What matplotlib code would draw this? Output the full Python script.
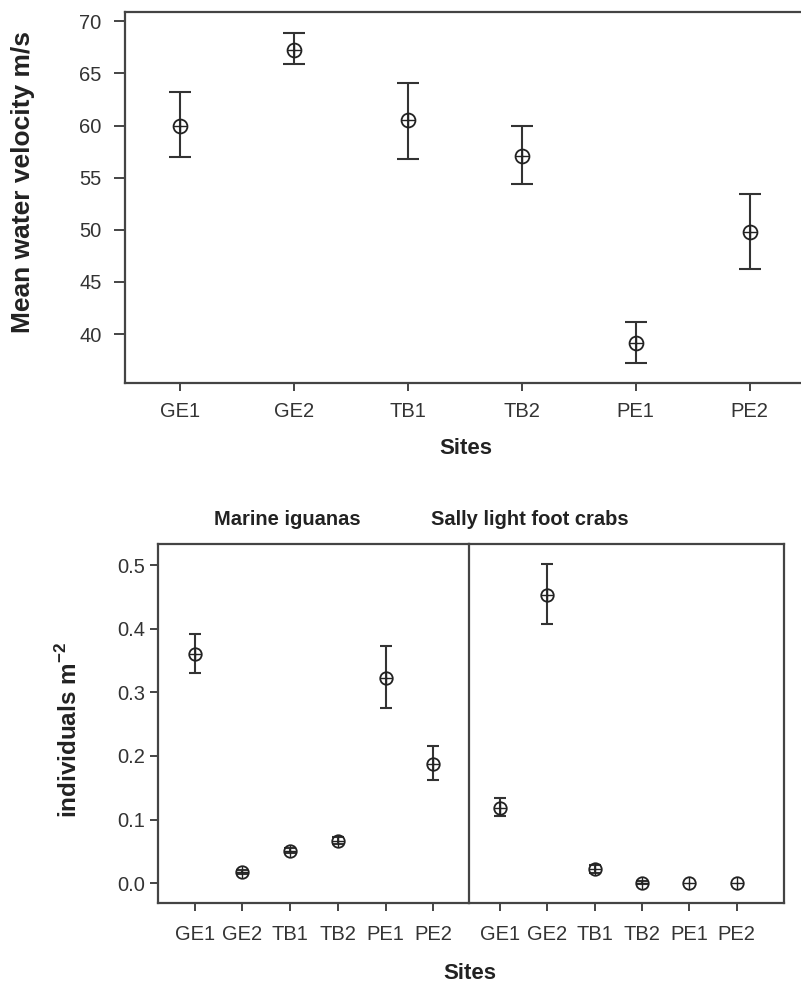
import matplotlib
matplotlib.use("Agg")
import matplotlib.pyplot as plt
import numpy as np

plt.rcParams['font.family'] = ['Liberation Sans', 'DejaVu Sans']

sites = ["GE1", "GE2", "TB1", "TB2", "PE1", "PE2"]

# Top panel: mean water velocity with error bar ends
vel_mean = [60.0, 67.3, 60.5, 57.1, 39.1, 49.8]
vel_low = [57.0, 65.95, 56.8, 54.35, 37.2, 46.2]
vel_high = [63.2, 68.9, 64.1, 60.0, 41.2, 53.4]

# Bottom panels: density (individuals m^-2)
igu_mean = [0.360, 0.018, 0.051, 0.067, 0.323, 0.188]
igu_low = [0.330, 0.015, 0.047, 0.061, 0.276, 0.163]
igu_high = [0.392, 0.021, 0.055, 0.073, 0.372, 0.216]

crab_mean = [0.118, 0.453, 0.022, 0.001, 0.0, 0.0]
crab_low = [0.106, 0.407, 0.016, -0.001, 0.0, 0.0]
crab_high = [0.134, 0.501, 0.028, 0.003, 0.0, 0.0]

W, H = 801, 988
fig = plt.figure(figsize=(W / 100, H / 100), dpi=100)
LC = '#333333'
SC = '#444444'


def ax_px(l, t, r, b):
    return fig.add_axes([l / W, (H - b) / H, (r - l) / W, (b - t) / H])


def draw(ax, m, lo, hi, ms, cap):
    x = np.arange(len(m))
    m = np.array(m); lo = np.array(lo); hi = np.array(hi)
    yerr = np.vstack([m - lo, hi - m])
    has = (hi - lo) > 0
    ax.errorbar(x[has], m[has], yerr=yerr[:, has], fmt='none', ecolor=LC,
                elinewidth=1.5, capsize=cap, capthick=1.5, zorder=2)
    ax.plot(x, m, 'o', ms=ms, mfc='none', mec='#222222', mew=1.3, zorder=3)
    ax.plot(x, m, '+', ms=ms, mec='#222222', mew=1.0, zorder=4)


def style(ax):
    for s in ax.spines.values():
        s.set_color(SC)
        s.set_linewidth(1.6)
    ax.tick_params(colors=SC, width=1.4, length=6, labelsize=14.5,
                   labelcolor='#333333')


# Top
ax1 = ax_px(125, 12, 801, 383)
draw(ax1, vel_mean, vel_low, vel_high, ms=10, cap=8)
ax1.set_xlim(-0.48, 5.45)
ax1.set_ylim(35.3, 70.9)
ax1.set_yticks([40, 45, 50, 55, 60, 65, 70])
ax1.set_xticks(range(6))
ax1.set_xticklabels(sites)
style(ax1)
ax1.spines['right'].set_visible(False)
ax1.tick_params(axis='x', pad=8)
ax1.tick_params(axis='y', length=8, pad=9)
ax1.set_ylabel("Mean water velocity m/s", fontsize=19, fontweight='bold',
               color='#222222')
ax1.yaxis.set_label_coords(-(125 - 35) / 676, (383 - 182) / 371)
fig.text(466 / W, 1 - 449 / H, "Sites", ha='center', va='center',
         fontsize=16, fontweight='bold', color='#222222')

# Bottom left
ax2 = ax_px(158, 544, 469, 903)
draw(ax2, igu_mean, igu_low, igu_high, ms=9, cap=4.5)
ax2.set_xlim(-0.77, 5.75)
ax2.set_ylim(-0.031, 0.533)
ax2.set_yticks([0.0, 0.1, 0.2, 0.3, 0.4, 0.5])
ax2.set_yticklabels(["0.0", "0.1", "0.2", "0.3", "0.4", "0.5"])
ax2.set_xticks(range(6))
ax2.set_xticklabels(sites)
style(ax2)
ax2.tick_params(axis='x', pad=10)
ax2.spines['right'].set_visible(False)
ax2.set_ylabel("individuals m$^{\\mathregular{-2}}$", fontsize=17.5,
               fontweight='bold', color='#222222')
ax2.yaxis.set_label_coords(-(158 - 82) / 311, (903 - 730) / 359)

# Bottom right
ax3 = ax_px(469, 544, 784, 903)
draw(ax3, crab_mean, crab_low, crab_high, ms=9, cap=4.5)
ax3.set_xlim(-0.65, 6.0)
ax3.set_ylim(-0.031, 0.533)
ax3.set_xticks(range(6))
ax3.set_xticklabels(sites)
ax3.set_yticks([])
style(ax3)
ax3.tick_params(axis='x', pad=10)

fig.text(287 / W, 1 - 519 / H, "Marine iguanas", ha='center', va='center',
         fontsize=14.5, fontweight='bold', color='#222222')
fig.text(530 / W, 1 - 519 / H, "Sally light foot crabs", ha='center',
         va='center', fontsize=14.5, fontweight='bold', color='#222222')
fig.text(470 / W, 1 - 973 / H, "Sites", ha='center', va='center',
         fontsize=16, fontweight='bold', color='#222222')

fig.savefig("out.png", dpi=100, facecolor='white')
